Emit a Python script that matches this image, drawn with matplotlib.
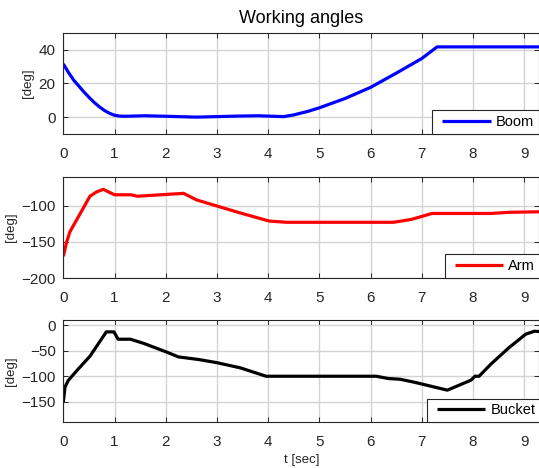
import matplotlib
matplotlib.use("Agg")
import matplotlib.pyplot as plt
from matplotlib.legend_handler import HandlerLine2D
from matplotlib.lines import Line2D

plt.rcParams['font.family'] = ['Liberation Sans', 'DejaVu Sans']

# ---- data ----
boom_t = [0, 0.1, 0.2, 0.3, 0.4, 0.5, 0.6, 0.7, 0.8, 0.9, 1.0, 1.1, 1.2, 1.6, 2.0, 2.6, 3.0,
          3.4, 3.8, 4.1, 4.3, 4.5, 4.8, 5.0, 5.5, 6.0, 6.5, 7.0, 7.3, 9.3]
boom_v = [31.5, 26.5, 22, 18.5, 15, 11.8, 8.8, 6.2, 4, 2.3, 1.1, 0.6, 0.5, 0.8, 0.5, 0, 0.3,
          0.6, 0.8, 0.5, 0.3, 1.3, 3.6, 5.5, 11, 17.6, 26, 34.7, 41.6, 41.6]

arm_t = [0, 0.066, 0.13, 0.33, 0.52, 0.65, 0.78, 1.0, 1.32, 1.45, 2.35, 2.6, 3.0,
         3.48, 4.02, 4.36, 6.45, 6.8, 7.2, 8.35, 8.7, 9.3]
arm_v = [-170, -150, -136, -111, -87, -81, -77.5, -85, -85, -87, -83, -92, -100.5,
         -110.6, -121.3, -123, -123, -119, -110.8, -110.8, -109.2, -108.5]

bucket_t = [0, 0.034, 0.10, 0.30, 0.52, 0.84, 0.99, 1.07, 1.31, 1.58, 2.01, 2.25, 2.65,
            2.99, 3.46, 3.96, 6.11, 6.35, 6.58, 6.88, 7.5, 7.96, 8.04, 8.12, 8.35, 8.7,
            9.03, 9.2, 9.3]
bucket_v = [-150, -120.6, -107.5, -84.6, -60.5, -12.7, -12.7, -27.1, -27.1, -35.6, -52,
            -61.8, -67, -72.9, -83.3, -99.7, -99.7, -104.2, -105.6, -112, -127, -107.5,
            -99.7, -99.7, -76, -44, -17.3, -11.4, -12]

x_ticks = [0, 1, 2, 3, 4, 5, 6, 7, 8, 9]
series = [
    ("Boom", boom_t, boom_v, "#0000ff", (-10, 50), [0, 20, 40], 0.775),
    ("Arm", arm_t, arm_v, "#ff0000", (-200, -60), [-200, -150, -100], 0.801),
    ("Bucket", bucket_t, bucket_v, "#000000", (-190, 10), [-150, -100, -50, 0], 0.764),
]

W, H = 539, 468
fig = plt.figure(figsize=(W / 100, H / 100), dpi=100)
fig.patch.set_facecolor('white')

left = 63.3 / W
width = (539.5 - 63.3) / W
boxes = [(32.7, 134.0), (176.7, 278.0), (320.3, 422.3)]
dark = '#262626'

axes = []
for (name, t, v, col, ylim, yt, legx), (top, bot) in zip(series, boxes):
    ax = fig.add_axes([left, 1 - bot / H, width, (bot - top) / H])
    ax.plot(t, v, color=col, lw=2.3, solid_joinstyle='round', solid_capstyle='butt',
            label=name)
    ax.set_xlim(0, 9.3)
    ax.set_ylim(*ylim)
    ax.set_xticks(x_ticks)
    ax.set_yticks(yt)
    ax.grid(True, color='#d3d3d3', lw=1.0)
    ax.set_axisbelow(True)
    for s in ax.spines.values():
        s.set_color(dark)
        s.set_linewidth(0.8)
    ax.tick_params(direction='in', length=3.5, width=0.7, colors=dark,
                   top=True, right=True, labelsize=11)
    ax.tick_params(axis='x', pad=9)
    ax.tick_params(axis='y', pad=5.5)
    ax.set_ylabel('[deg]', fontsize=9.5, color=dark, labelpad=3)
    leg = ax.legend(loc='lower left', bbox_to_anchor=(legx, 0), borderaxespad=0,
                    fontsize=10.5, frameon=True, fancybox=False, framealpha=1,
                    edgecolor=dark, borderpad=0.33, handlelength=3.66,
                    handletextpad=0.34,
                    handler_map={Line2D: HandlerLine2D(xpad=0.36)})
    leg.get_frame().set_linewidth(0.8)
    leg.set_zorder(5)
    for txt in leg.get_texts():
        txt.set_color('black')
    axes.append(ax)

axes[0].set_title('Working angles', fontsize=13, color='black', pad=7)
axes[2].set_xlabel('t [sec]', fontsize=9.5, color=dark, labelpad=4)

fig.savefig('out.png', dpi=100, facecolor='white')
